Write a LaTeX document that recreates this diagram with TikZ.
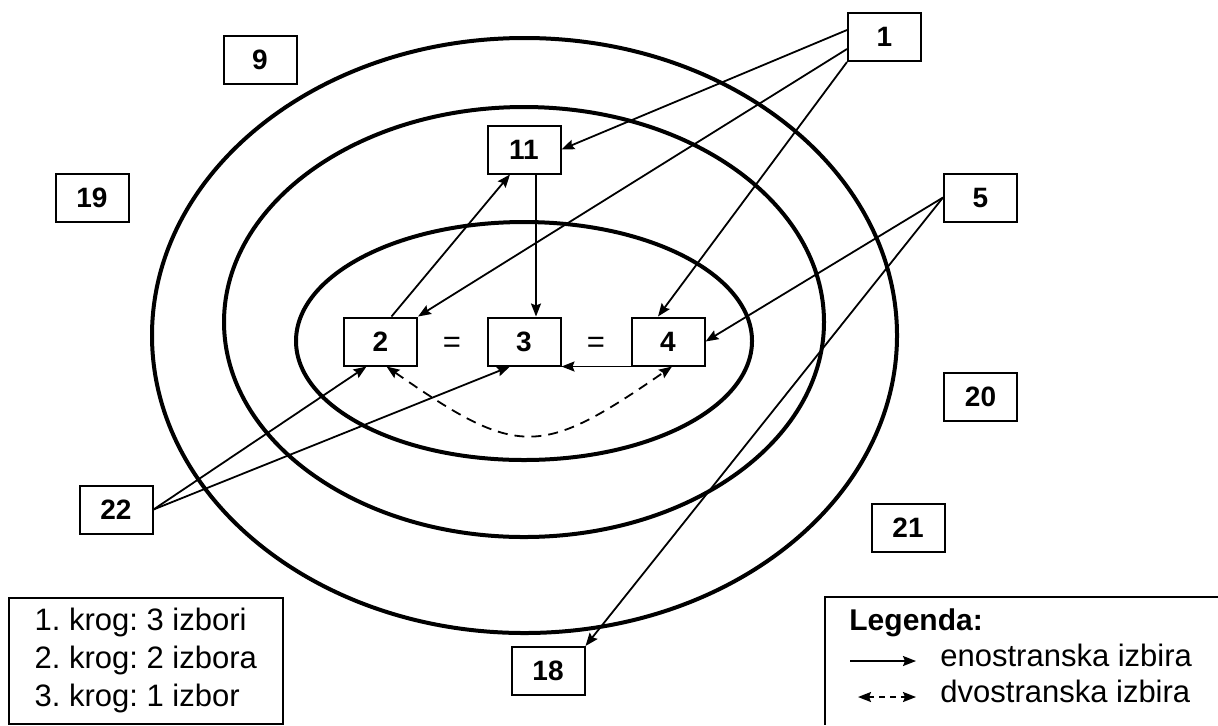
\documentclass[tikz,border=0pt]{standalone}
\usepackage{fontspec}
\setmainfont{Liberation Sans}
\usetikzlibrary{arrows.meta}
\frenchspacing

\begin{document}
\begin{tikzpicture}[x=0.5pt,y=-0.5pt,
  oseba/.style={draw,line width=1pt,minimum width=36.5pt,minimum height=24pt,inner sep=0pt,font=\fontsize{14}{16}\selectfont\bfseries},
  krog/.style={line width=2pt},
  konica/.tip={Stealth[length=6.5pt,width=5pt,inset=1pt]},
  izbira/.style={line width=0.9pt,-konica},
  obojna/.style={line width=0.9pt,dash pattern=on 5pt off 3.5pt,konica-konica},
  besedilo/.style={font=\fontsize{15.5}{19}\selectfont,inner sep=0pt}]
\useasboundingbox (0,0) rectangle (1218,725);
\draw [krog] (524.5,335.5) ellipse [x radius=372.5,y radius=297.5];
\draw [krog] (524,322) ellipse [x radius=300,y radius=215];
\draw [krog] (524,341) ellipse [x radius=228,y radius=119];
\node (n1) [oseba] at (884.5,37) {1};
\node (n11) [oseba] at (524,149.5) {11};
\node (n2) [oseba] at (380.5,341.5) {2};
\node (n3) [oseba] at (524,341.5) {3};
\node (n4) [oseba] at (668,341.5) {4};
\node (n5) [oseba] at (980.5,197.5) {5};
\node (n9) [oseba] at (260,60) {9};
\node (n19) [oseba] at (92,197.5) {19};
\node (n20) [oseba] at (980.5,396.5) {20};
\node (n21) [oseba] at (908,528) {21};
\node (n22) [oseba] at (116,509.5) {22};
\node (n18) [oseba] at (548,671) {18};
\node (eq1) [besedilo] at (452,345) {=};
\node (eq2) [besedilo] at (596,345) {=};
\draw [izbira] ([yshift=3.5pt]n1.west) -- (n11.east);
\draw [izbira] ([yshift=-6pt]n1.west) -- (n2.north east);
\draw [izbira] (n1.south west) -- ([xshift=-5pt]n4.north);
\draw [izbira] ([xshift=5.5pt]n2.north) -- ([xshift=-7pt]n11.south);
\draw [izbira] ([xshift=6pt]n11.south) -- ([xshift=6pt]n3.north);
\draw [izbira] (n4.south west) -- (n3.south east);
\draw [izbira] (n5.west) -- (n4.east);
\draw [izbira] (n5.west) -- (n18.north east);
\draw [izbira] (n22.east) -- ([xshift=-7pt]n2.south);
\draw [izbira] (n22.east) -- ([xshift=-7pt]n3.south);
\draw [obojna] ([xshift=3pt]n2.south) .. controls (518,458) and (540,458) .. ([xshift=2pt]n4.south);
\node (krogi) [draw,line width=0.75pt,besedilo,align=left,anchor=north west,minimum width=137pt,minimum height=63pt] at (8,597) {1. krog: 3 izbori\\2. krog: 2 izbora\\3. krog: 1 izbor};
\draw [line width=0.75pt] (1218,597) -| (825,725);
\node (leg) [besedilo,font=\fontsize{15}{19}\selectfont\bfseries,anchor=base west] at (849,630) {Legenda:};
\node (eno) [besedilo,anchor=base west] at (940,666) {enostranska izbira};
\node (dvo) [besedilo,anchor=base west] at (940,702) {dvostranska izbira};
\coordinate (a1) at (850,661);
\coordinate (b1) at (916,661);
\coordinate (a2) at (858,697);
\coordinate (b2) at (916,697);
\draw [izbira] (a1) -- (b1);
\draw [obojna,dash pattern=on 3pt off 2.5pt] (a2) -- (b2);
\end{tikzpicture}
\end{document}
